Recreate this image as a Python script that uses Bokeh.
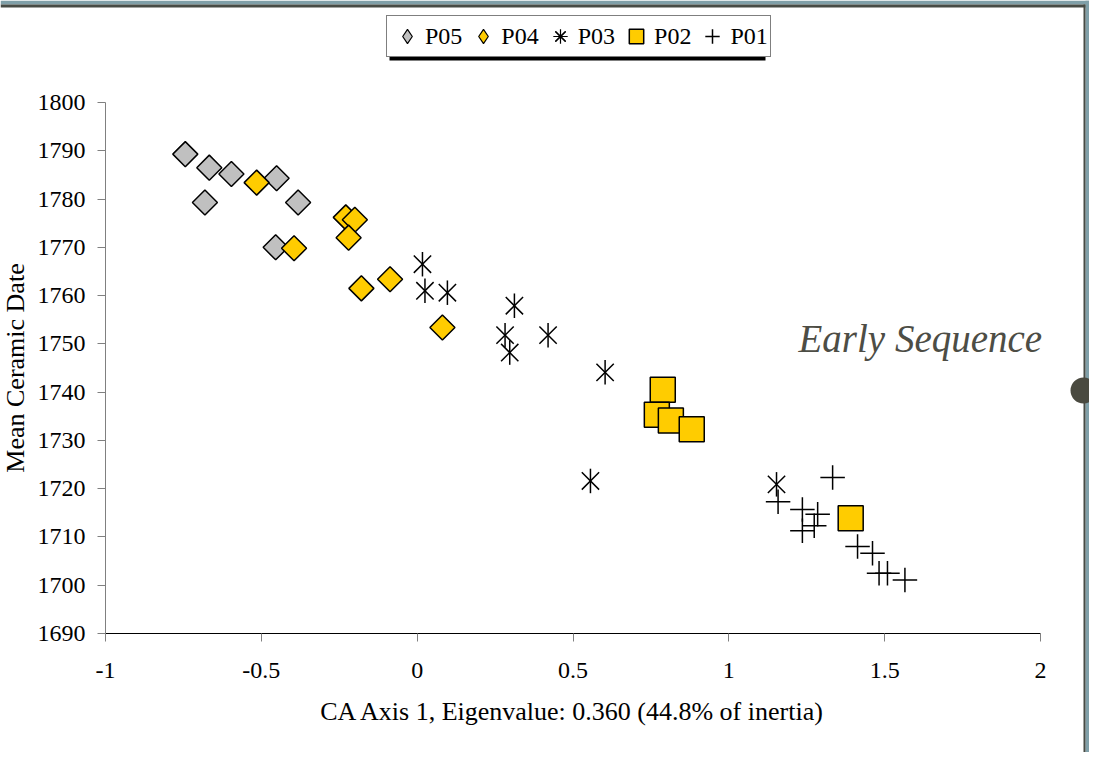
import math
from bokeh.plotting import figure
from bokeh.models import (Range1d, FixedTicker, Legend, LegendItem, BoxAnnotation,
                          Label, LinearAxis)
from bokeh.embed import file_html
from bokeh.resources import INLINE

# ---- data ----
p05_x = [-0.744, -0.667, -0.596, -0.681, -0.451, -0.382, -0.454]
p05_y = [1789.3, 1786.5, 1785.2, 1779.3, 1784.3, 1779.3, 1770.0]

p04_x = [-0.515, -0.229, -0.200, -0.220, -0.395, -0.179, -0.087, 0.081]
p04_y = [1783.4, 1776.2, 1775.7, 1772.0, 1769.8, 1761.5, 1763.4, 1753.4]

p03_x = [0.017, 0.025, 0.097, 0.312, 0.282, 0.297, 0.420, 0.603, 0.556, 1.153]
p03_y = [1766.5, 1761.0, 1760.6, 1757.9, 1751.8, 1748.2, 1751.8, 1744.1, 1721.6, 1720.9]

p02_x = [0.788, 0.769, 0.814, 0.881, 1.391]
p02_y = [1740.5, 1735.3, 1734.1, 1732.3, 1713.9]

p01_x = [1.158, 1.333, 1.236, 1.285, 1.274, 1.236, 1.413, 1.461, 1.482, 1.509, 1.565]
p01_y = [1717.3, 1722.3, 1715.7, 1714.7, 1712.3, 1711.3, 1708.0, 1706.6, 1702.5, 1702.5, 1701.1]

series_names = ["P05", "P04", "P03", "P02", "P01"]
x_min, x_max = -1, 2
y_min, y_max = 1690, 1800
x_ticks = [-1, -0.5, 0, 0.5, 1, 1.5, 2]
x_tick_labels = ["-1", "-0.5", "0", "0.5", "1", "1.5", "2"]
y_ticks = list(range(1690, 1801, 10))

x_title = "CA Axis 1, Eigenvalue: 0.360 (44.8% of inertia)"
y_title = "Mean Ceramic Date"
note_text = "Early Sequence"

FONT = "Liberation Serif"
GRAY_FILL = "#c0c0c0"
YELLOW = "#ffcc00"
FRAME_BLUE = "#7f9fa8"
FRAME_DARK = "#474b45"

# canvas layout (pixels inside the figure)
W, H = 1089, 752
PLOT_L, PLOT_R, PLOT_T, PLOT_B = 105, 1040, 102, 633
kx = (PLOT_R - PLOT_L) / (x_max - x_min)
ky = (PLOT_B - PLOT_T) / (y_max - y_min)
xr = Range1d(x_min - PLOT_L / kx, x_min + (W - PLOT_L) / kx)
yr = Range1d(y_min - (H - PLOT_B) / ky, y_max + PLOT_T / ky)

p = figure(width=W, height=H, x_range=xr, y_range=yr,
           x_axis_type=None, y_axis_type=None,
           output_backend="svg", toolbar_location=None,
           min_border=0, background_fill_color="white",
           border_fill_color="white", outline_line_color=None)

xaxis = LinearAxis(fixed_location=y_min, bounds=(x_min, x_max),
                   ticker=FixedTicker(ticks=x_ticks),
                   major_label_overrides={t: s for t, s in zip(x_ticks, x_tick_labels)})
yaxis = LinearAxis(fixed_location=x_min, bounds=(y_min, y_max),
                   ticker=FixedTicker(ticks=y_ticks))
for ax in (xaxis, yaxis):
    ax.major_tick_in = 0
    ax.major_tick_out = 8
    ax.minor_tick_in = 0
    ax.minor_tick_out = 0
    ax.major_tick_line_color = "#808080"
    ax.major_label_text_font = FONT
    ax.major_label_text_font_size = "24px"
    ax.major_label_text_color = "black"
    ax.axis_label_text_font = FONT
    ax.axis_label_text_font_size = "26px"
    ax.axis_label_text_font_style = "normal"
    ax.axis_label_text_color = "black"
xaxis.axis_line_color = "black"
yaxis.axis_line_color = "#808080"
xaxis.major_label_standoff = 21
yaxis.major_label_standoff = 12
xaxis.axis_label = x_title
yaxis.axis_label = y_title
xaxis.axis_label_standoff = 16
yaxis.axis_label_standoff = 5
p.add_layout(xaxis, "below")
p.add_layout(yaxis, "left")

# legend keys: legend glyphs are always drawn upright and at one size, so the
# keys use upright shapes; in the plot they are drawn first, tiny, and hidden
# beneath the real markers
k05 = p.scatter(p05_x, p05_y, marker="diamond", size=0.1, fill_color=GRAY_FILL,
                line_color="black", line_width=1.2)
k04 = p.scatter(p04_x, p04_y, marker="diamond", size=0.1, fill_color=YELLOW,
                line_color="black", line_width=1.2)
k03 = p.scatter(p03_x, p03_y, marker="asterisk", size=0.1,
                line_color="black", line_width=1.2)

# series
r05 = p.scatter(p05_x, p05_y, marker="square", angle=math.pi / 4, size=17.7,
                fill_color=GRAY_FILL, line_color="black", line_width=1.5)
r04 = p.scatter(p04_x, p04_y, marker="square", angle=math.pi / 4, size=17.7,
                fill_color=YELLOW, line_color="black", line_width=1.5)
r03a = p.scatter(p03_x, p03_y, marker="x", size=24.5, line_color="black", line_width=1.5)
r03b = p.scatter(p03_x, p03_y, marker="dash", angle=math.pi / 2, size=24.5,
                 line_color="black", line_width=1.5)
r02 = p.scatter(p02_x, p02_y, marker="square", size=25,
                fill_color=YELLOW, line_color="black", line_width=1.5)
r01 = p.scatter(p01_x, p01_y, marker="cross", size=24.5, line_color="black", line_width=1.5)

legend = Legend(items=[LegendItem(label=series_names[0], renderers=[k05]),
                       LegendItem(label=series_names[1], renderers=[k04]),
                       LegendItem(label=series_names[2], renderers=[r03a, k03]),
                       LegendItem(label=series_names[3], renderers=[r02]),
                       LegendItem(label=series_names[4], renderers=[r01])],
                orientation="horizontal", location=(386, H - 57), margin=0,
                glyph_width=36, glyph_height=36, label_standoff=-2, spacing=3,
                padding=2, border_line_color="black", border_line_width=1,
                background_fill_color="white", background_fill_alpha=1,
                label_text_font=FONT, label_text_font_size="24px",
                label_text_color="black")
p.add_layout(legend)


def canvas_box(left, right, top, bottom, color, level, radius=0):
    return BoxAnnotation(left=left, right=right, top=top, bottom=bottom,
                         left_units="canvas", right_units="canvas",
                         top_units="canvas", bottom_units="canvas",
                         fill_color=color, fill_alpha=1, line_color=None,
                         level=level, border_radius=radius)


# legend shadow
p.add_layout(canvas_box(389, 765, 20, 60, "black", "guide"))
# slide frame (top and right strips, knob)
p.add_layout(canvas_box(0, W, 0, 4, FRAME_BLUE, "overlay"))
p.add_layout(canvas_box(0, 1085, 4, 7, FRAME_DARK, "overlay"))
p.add_layout(canvas_box(1085, W, 0, H, FRAME_BLUE, "overlay"))
p.add_layout(canvas_box(1083, 1085, 4, H, FRAME_DARK, "overlay"))
p.add_layout(canvas_box(1070, 1096, 377, 403, "#4a4a40", "overlay", radius=13))

note = Label(x=1.2235, y=1751.1, text=note_text, text_font=FONT,
             text_font_size="39px", text_font_style="italic",
             text_color="#4d4d45", text_baseline="alphabetic", text_align="left")
p.add_layout(note)

open("out.html", "w").write(file_html(p, INLINE))
